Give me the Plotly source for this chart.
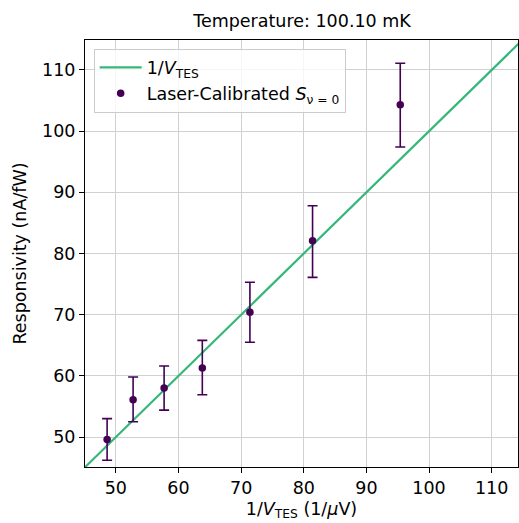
import plotly.graph_objects as go

inv_v = [48.6, 52.75, 57.7, 63.8, 71.4, 81.4, 95.4]
resp = [49.6, 56.1, 58.0, 61.3, 70.4, 82.1, 104.3]
err_hi = [53.0, 59.8, 61.6, 65.8, 75.3, 87.8, 111.1]
err_lo = [46.2, 52.5, 54.4, 56.9, 65.5, 76.1, 97.4]
line_x = [40, 120]
x_ticks = [50, 60, 70, 80, 90, 100, 110]
y_ticks = [50, 60, 70, 80, 90, 100, 110]

plus = [h - r for h, r in zip(err_hi, resp)]
minus = [r - l for r, l in zip(resp, err_lo)]

purple = "#440154"
green = "#35b779"
FS = 17.5

fig = go.Figure()
fig.add_trace(go.Scatter(
    x=line_x, y=line_x, mode="lines",
    line=dict(color=green, width=2.2),
    name="1/<i>V</i><sub>TES</sub>",
))
fig.add_trace(go.Scatter(
    x=inv_v, y=resp, mode="markers",
    marker=dict(color=purple, size=7.5),
    error_y=dict(type="data", array=plus, arrayminus=minus, symmetric=False,
                 color=purple, thickness=1.6, width=5),
    name="Laser-Calibrated <i>S</i><sub>ν = 0</sub>",
))

axis_common = dict(
    showline=True, linecolor="black", linewidth=1.1, mirror=True,
    ticks="outside", ticklen=5, tickcolor="black",
    showgrid=True, gridcolor="#d0d0d0", gridwidth=1.1,
    zeroline=False, tickfont=dict(size=FS, color="black"),
    automargin=False,
)

fig.update_layout(
    width=519, height=523,
    margin=dict(l=85, r=1, t=40, b=56),
    paper_bgcolor="white", plot_bgcolor="white",
    font=dict(family="DejaVu Sans", color="black", size=FS),
    title=dict(text="Temperature: 100.10 mK", x=(302 / 519), xanchor="center",
               y=1 - 21 / 523, yanchor="middle", font=dict(size=FS)),
    xaxis=dict(range=[45.07, 114.2], tickvals=x_ticks,
               title=dict(text="1/<i>V</i><sub>TES</sub> (1/<i>μ</i>V)", font=dict(size=FS), standoff=5),
               **axis_common),
    yaxis=dict(range=[45.1, 114.9], tickvals=y_ticks,
               title=dict(text="Responsivity (nA/fW)", font=dict(size=FS), standoff=10),
               **axis_common),
    legend=dict(x=0.02, y=0.98, xanchor="left", yanchor="top",
                bgcolor="rgba(255,255,255,0.8)", bordercolor="#cccccc", borderwidth=1,
                font=dict(size=FS), tracegroupgap=4, itemwidth=42),
    showlegend=True,
)

fig.write_html(
    "out.html",
    config={"displayModeBar": False},
    post_script="document.body.style.margin='0';document.body.style.overflow='hidden';"
                "document.documentElement.style.overflow='hidden';",
)
